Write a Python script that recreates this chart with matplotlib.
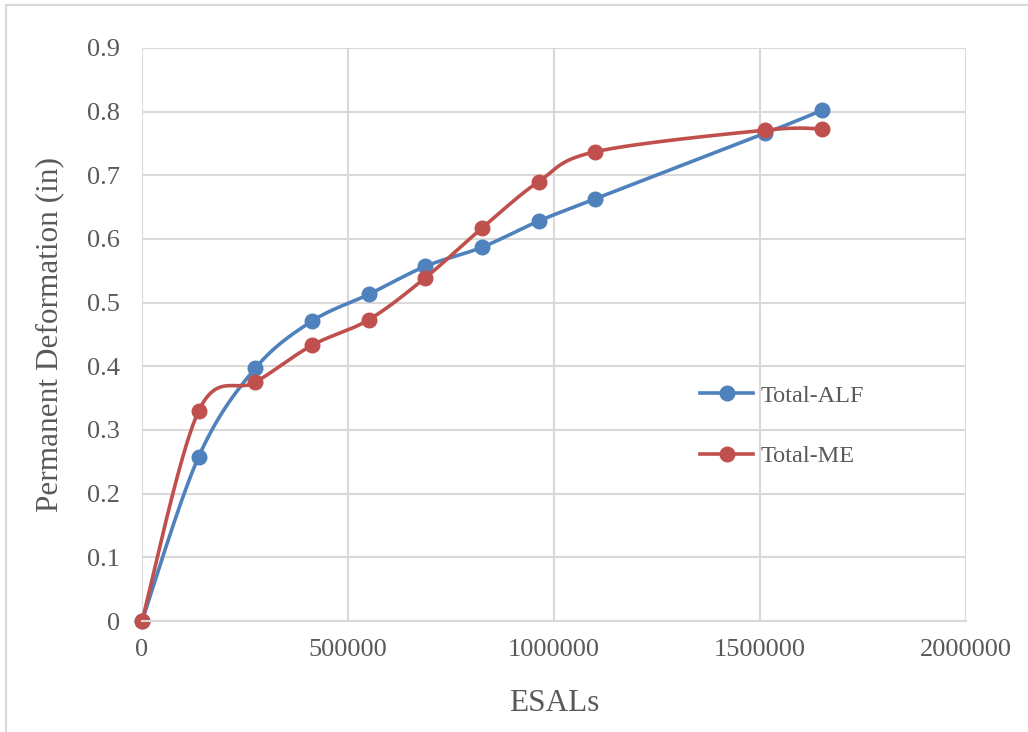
import numpy as np
import matplotlib
matplotlib.use("Agg")
import matplotlib.pyplot as plt
from matplotlib.lines import Line2D
from matplotlib.patches import Rectangle

# ESAL counts at each survey and the measured rut depth for both methods
esals_alf = [0, 137500, 275000, 412500, 550000, 687500, 825000, 962500, 1100000, 1512500, 1650000]
total_alf = [0, 0.258, 0.397, 0.471, 0.513, 0.557, 0.587, 0.628, 0.663, 0.766, 0.802]

esals_me = [0, 137500, 275000, 412500, 550000, 687500, 825000, 962500, 1100000, 1512500, 1650000]
total_me = [0, 0.330, 0.375, 0.433, 0.473, 0.539, 0.617, 0.690, 0.737, 0.771, 0.773]

series_labels = ["Total-ALF", "Total-ME"]
x_ticks = [0, 500000, 1000000, 1500000, 2000000]
y_ticks = [0, 0.1, 0.2, 0.3, 0.4, 0.5, 0.6, 0.7, 0.8, 0.9]

BLUE = "#4F81BD"
RED = "#C0504D"
GRID = "#D9D9D9"
TEXT = "#595959"
LW = 2.6
MS = 10.5


def smooth_curve(xs, ys, n=40):
    """Catmull-Rom style cubic Bezier through every point."""
    p = np.column_stack([xs, ys]).astype(float)
    ext = np.vstack([p[0], p, p[-1]])
    out = [p[:1]]
    t = np.linspace(0, 1, n)[1:, None]
    for i in range(len(p) - 1):
        p0, p1, p2, p3 = ext[i], ext[i + 1], ext[i + 2], ext[i + 3]
        c1 = p1 + (p2 - p0) / 6.0
        c2 = p2 - (p3 - p1) / 6.0
        seg = ((1 - t) ** 3) * p1 + 3 * ((1 - t) ** 2) * t * c1 + 3 * (1 - t) * t ** 2 * c2 + t ** 3 * p2
        out.append(seg)
    pts = np.vstack(out)
    return pts[:, 0], pts[:, 1]


plt.rcParams["font.family"] = ["Liberation Serif", "DejaVu Serif"]

fig = plt.figure(figsize=(10.28, 7.32), dpi=100)
W, H = 1028, 732
ax = fig.add_axes([142 / W, 1 - 621 / H, (966 - 142) / W, (621 - 48) / H])

# outer chart border
fig.patches.append(Rectangle((6 / W, -0.1), 1.2, 1 - 5 / H + 0.1, transform=fig.transFigure,
                             fill=False, edgecolor=GRID, linewidth=1.5))

ax.set_xlim(0, 2000000)
ax.set_ylim(0, 0.9)
ax.set_xticks(x_ticks)
ax.set_yticks(y_ticks)
ax.set_xticklabels([f"{v:d}" for v in x_ticks])
ax.set_yticklabels(["0"] + [f"{v:.1f}" for v in y_ticks[1:]])
ax.grid(True, color=GRID, linewidth=1.5)
ax.set_axisbelow(True)
for side in ["left", "top", "right"]:
    ax.spines[side].set_visible(False)
ax.spines["bottom"].set_color(GRID)
ax.spines["bottom"].set_linewidth(1.5)
ax.tick_params(length=0, labelsize=19, labelcolor=TEXT)
ax.tick_params(axis="y", pad=16)
ax.tick_params(axis="x", pad=13)

for xs, ys, c in [(esals_alf, total_alf, BLUE), (esals_me, total_me, RED)]:
    cx, cy = smooth_curve(xs, ys)
    ax.plot(cx, cy, color=c, linewidth=LW, solid_capstyle="round", clip_on=False)
    ax.plot(xs, ys, "o", color=c, markersize=MS, clip_on=False)

ax.set_xlabel("ESALs", fontsize=22.5, color=TEXT, labelpad=20)
ax.set_ylabel("Permanent Deformation (in)", fontsize=22.5, color=TEXT, labelpad=16)

handles = [Line2D([], [], color=BLUE, linewidth=LW, marker="o", markersize=MS),
           Line2D([], [], color=RED, linewidth=LW, marker="o", markersize=MS)]
leg = ax.legend(handles, series_labels, loc="center left",
                bbox_to_anchor=(700 / W, 1 - 426 / H), bbox_transform=fig.transFigure,
                frameon=False, fontsize=17.5, labelspacing=1.6, handlelength=2.2,
                handletextpad=0.3, borderpad=0, borderaxespad=0)
for t in leg.get_texts():
    t.set_color(TEXT)

fig.savefig("out.png", dpi=100, facecolor="white")
